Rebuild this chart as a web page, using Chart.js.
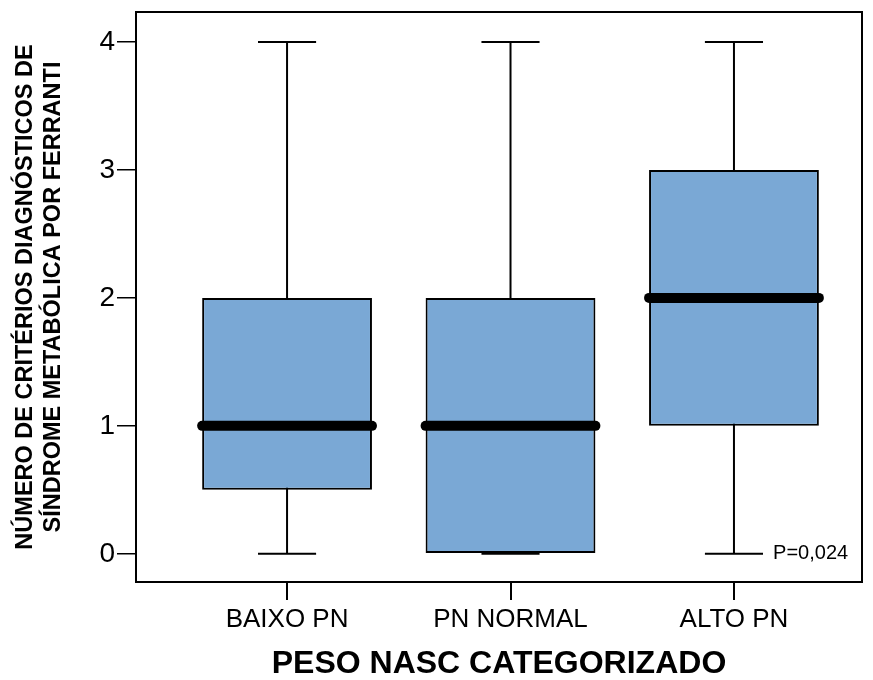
<!DOCTYPE html>
<html>
<head>
<meta charset="utf-8">
<script src="https://cdn.jsdelivr.net/npm/chart.js@4"></script>
<style>
  body { margin: 0; background: #fff; }
</style>
</head>
<body>
<canvas id="boxChart" width="873" height="680"></canvas>
<script>
// categorias e estatisticas do boxplot
var categorias = ["BAIXO PN", "PN NORMAL", "ALTO PN"];
var minimos  = [0, 0, 0];
var q1       = [0.5, 0, 1];
var medianas = [1, 1, 2];
var q3       = [2, 2, 3];
var maximos  = [4, 4, 4];
var yTicks   = [0, 1, 2, 3, 4];
var textoP   = "P=0,024";

var posicoes = categorias.map(function(c, i) { return i + 1; });

var boxPlugin = {
    id: "boxExtras",
    beforeDatasetsDraw: function(chart) {
        var ctx = chart.ctx, xs = chart.scales.x, ys = chart.scales.y;
        ctx.save();
        ctx.strokeStyle = "#000";
        ctx.lineWidth = 2;
        posicoes.forEach(function(p, i) {
            var x = xs.getPixelForValue(p);
            var x0 = xs.getPixelForValue(p - 0.13);
            var x1 = xs.getPixelForValue(p + 0.13);
            var yMin = ys.getPixelForValue(minimos[i]);
            var yMax = ys.getPixelForValue(maximos[i]);
            ctx.beginPath();
            ctx.moveTo(x, yMin); ctx.lineTo(x, yMax);
            ctx.moveTo(x0, yMin); ctx.lineTo(x1, yMin);
            ctx.moveTo(x0, yMax); ctx.lineTo(x1, yMax);
            ctx.stroke();
        });
        ctx.restore();
    },
    afterDatasetsDraw: function(chart) {
        var ctx = chart.ctx, xs = chart.scales.x, ys = chart.scales.y;
        var meta = chart.getDatasetMeta(0);
        ctx.save();
        ctx.strokeStyle = "#000";
        ctx.lineWidth = 10;
        ctx.lineCap = "round";
        meta.data.forEach(function(bar, i) {
            var half = bar.width / 2;
            var y = ys.getPixelForValue(medianas[i]);
            ctx.beginPath();
            ctx.moveTo(bar.x - half, y);
            ctx.lineTo(bar.x + half, y);
            ctx.stroke();
        });
        // moldura da area do grafico
        var a = chart.chartArea;
        ctx.lineCap = "butt";
        ctx.lineWidth = 2;
        ctx.strokeRect(a.left, a.top, a.right - a.left, a.bottom - a.top);
        // valor de p
        ctx.fillStyle = "#000";
        ctx.font = "20px 'Liberation Sans', Arial, sans-serif";
        ctx.textAlign = "left";
        ctx.textBaseline = "middle";
        ctx.fillText(textoP, xs.getPixelForValue(3.175), ys.getPixelForValue(0));
        ctx.restore();
    }
};

new Chart(document.getElementById("boxChart"), {
    type: "bar",
    data: {
        datasets: [{
            data: posicoes.map(function(p, i) { return { x: p, y: [q1[i], q3[i]] }; }),
            backgroundColor: "#7aa8d5",
            borderColor: "#000",
            borderWidth: 2,
            borderSkipped: false,
            barPercentage: 0.76,
            categoryPercentage: 1
        }]
    },
    plugins: [boxPlugin],
    options: {
        responsive: false,
        devicePixelRatio: 1,
        animation: false,
        layout: { padding: { top: 12, right: 11, left: 0, bottom: 0 } },
        scales: {
            x: {
                type: "linear",
                min: 0.324,
                max: 3.573,
                offset: false,
                afterBuildTicks: function(scale) {
                    scale.ticks = posicoes.map(function(v) { return { value: v }; });
                },
                afterFit: function(scale) {
                    scale.height = 98;
                    scale.paddingLeft = 0;
                    scale.paddingRight = 0;
                },
                grid: { offset: false, drawOnChartArea: false, color: "#000", tickLength: 18, lineWidth: 2 },
                border: { color: "#000", width: 2 },
                ticks: {
                    color: "#000",
                    padding: 4,
                    autoSkip: false,
                    maxRotation: 0,
                    font: { family: "'Liberation Sans', Arial", size: 26 },
                    callback: function(v) { return categorias[v - 1]; }
                },
                title: {
                    display: true,
                    text: "PESO NASC CATEGORIZADO",
                    color: "#000",
                    padding: { top: 0, bottom: 0 },
                    font: { family: "'Liberation Sans', Arial", size: 32, weight: "bold", lineHeight: 1 }
                }
            },
            y: {
                min: -0.22,
                max: 4.234,
                afterBuildTicks: function(scale) {
                    scale.ticks = yTicks.map(function(v) { return { value: v }; });
                },
                afterFit: function(scale) {
                    scale.width = 136;
                    scale.paddingTop = 0;
                    scale.paddingBottom = 0;
                },
                grid: { drawOnChartArea: false, color: "#000", tickLength: 19, lineWidth: 1.5 },
                border: { color: "#000", width: 2 },
                ticks: {
                    color: "#000",
                    padding: 2,
                    font: { family: "'Liberation Sans', Arial", size: 28 }
                },
                title: {
                    display: true,
                    text: ["NÚMERO DE CRITÉRIOS DIAGNÓSTICOS DE", "SÍNDROME METABÓLICA POR FERRANTI"],
                    color: "#000",
                    padding: { top: 12, bottom: 0 },
                    font: { family: "'Liberation Sans', Arial", size: 23.5, weight: "bold", lineHeight: 1.19 }
                }
            }
        },
        plugins: {
            legend: { display: false },
            tooltip: { enabled: false }
        }
    }
});
</script>
</body>
</html>
